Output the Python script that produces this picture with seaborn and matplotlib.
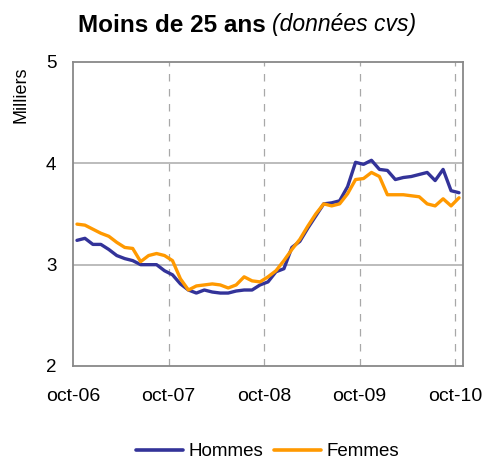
import numpy as np
import pandas as pd
import matplotlib
matplotlib.use("Agg")
import matplotlib.pyplot as plt
import seaborn as sns
from matplotlib.lines import Line2D

# Monthly data, oct-06 .. oct-10 (thousands)
hommes = [3.24, 3.26, 3.20, 3.20, 3.15, 3.09, 3.06, 3.04, 3.00, 3.00,
          3.00, 2.94, 2.90, 2.81, 2.75, 2.72, 2.75, 2.73, 2.72, 2.72,
          2.74, 2.75, 2.75, 2.80, 2.83, 2.93, 2.96, 3.17, 3.23, 3.36,
          3.48, 3.60, 3.61, 3.63, 3.77, 4.01, 3.99, 4.03, 3.94, 3.93,
          3.84, 3.86, 3.87, 3.89, 3.91, 3.83, 3.94, 3.73, 3.71]
femmes = [3.40, 3.39, 3.35, 3.31, 3.28, 3.22, 3.17, 3.16, 3.03, 3.09,
          3.11, 3.09, 3.04, 2.86, 2.75, 2.79, 2.80, 2.81, 2.80, 2.77,
          2.80, 2.88, 2.84, 2.83, 2.88, 2.94, 3.04, 3.15, 3.25, 3.38,
          3.50, 3.60, 3.58, 3.60, 3.70, 3.84, 3.85, 3.91, 3.87, 3.69,
          3.69, 3.69, 3.68, 3.67, 3.60, 3.58, 3.65, 3.58, 3.66]
tick_labels = ["oct-06", "oct-07", "oct-08", "oct-09", "oct-10"]
series_names = ["Hommes", "Femmes"]

months = np.arange(len(hommes))
df = pd.DataFrame({
    "mois": np.concatenate([months, months]),
    "valeur": np.concatenate([hommes, femmes]),
    "serie": [series_names[0]] * len(hommes) + [series_names[1]] * len(femmes),
})

sns.set_theme(style="white")
plt.rcParams["font.family"] = ["Liberation Sans", "DejaVu Sans"]
plt.rcParams["text.color"] = "black"
plt.rcParams["axes.labelcolor"] = "black"
plt.rcParams["xtick.color"] = "black"
plt.rcParams["ytick.color"] = "black"

fig = plt.figure(figsize=(4.9, 4.63), dpi=100)
ax = fig.add_axes([73 / 490, 1 - 366 / 463, 390 / 490, 304 / 463])

sns.lineplot(data=df, x="mois", y="valeur", hue="serie",
             palette={"Hommes": "#333399", "Femmes": "#FF9900"},
             linewidth=2.4, ax=ax, legend=False)

ax.set_xlim(-0.5, 48.5)
ax.set_ylim(2, 5)
ax.set_yticks([2, 3, 4, 5])
ax.set_yticklabels(["2", "3", "4", "5"], fontsize=13.5)
xt = [-0.5 + 12 * k for k in range(5)]
ax.set_xticks(xt)
ax.set_xticklabels(tick_labels, fontsize=14)
ax.set_xlabel("")
ax.set_ylabel("")
fig.text(21 / 490, 1 - 95 / 463, "Milliers", fontsize=13, rotation=90,
         ha="center", va="center")

for y in [3, 4]:
    ax.axhline(y, color="#b0b0b0", linewidth=1.2, zorder=0)
for x in xt[1:]:
    ax.axvline(x, color="#a8a8a8", linewidth=0.9, linestyle=(0, (6, 6)), zorder=0)

for s in ax.spines.values():
    s.set_color("#888888")
    s.set_linewidth(1.3)
ax.tick_params(axis="both", which="both", direction="out", length=4,
               width=1, pad=8)
ax.tick_params(axis="x", pad=12)
for t in ax.get_xticklines() + ax.get_yticklines():
    t.set_color("#888888")

fig.text(78 / 490, 1 - 25 / 463, "Moins de 25 ans", fontsize=17.5, fontweight="bold",
         ha="left", va="center")
fig.text(272 / 490, 1 - 25 / 463, "(données cvs)", fontsize=16.5, fontstyle="italic",
         ha="left", va="center")

handles = [Line2D([], [], color="#333399", linewidth=2.6),
           Line2D([], [], color="#FF9900", linewidth=2.6)]
fig.legend(handles, series_names, loc="center", bbox_to_anchor=(0.546, 0.024),
           ncol=2, frameon=False, fontsize=13.5, handlelength=2.5,
           handletextpad=0.3, columnspacing=0.55, borderpad=0.1)

fig.savefig("out.png", dpi=100)
